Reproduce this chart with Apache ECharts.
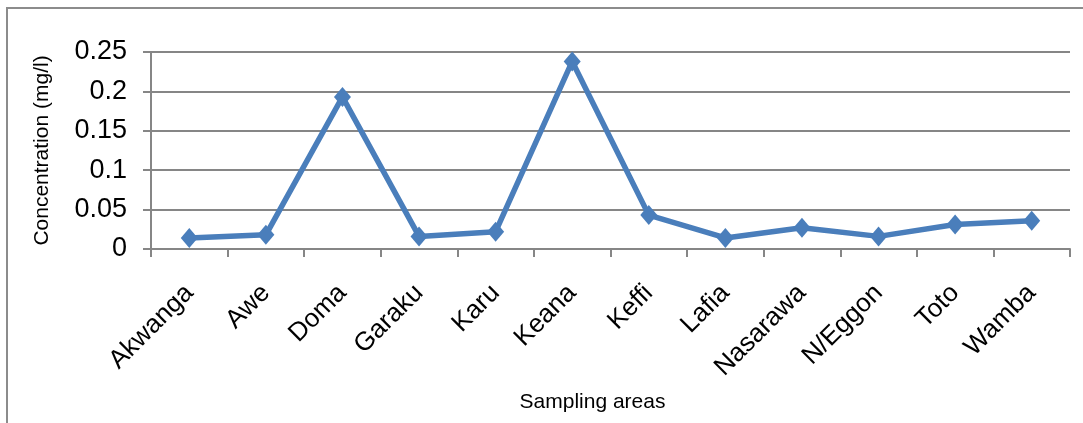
<!DOCTYPE html>
<html>
<head>
<meta charset="utf-8">
<script src="https://cdn.jsdelivr.net/npm/echarts@6/dist/echarts.min.js"></script>
<style>
html,body{margin:0;padding:0;background:#fff;}
#c{width:1083px;height:423px;}
</style>
</head>
<body>
<div id="c"></div>
<script>
const categories = ["Akwanga","Awe","Doma","Garaku","Karu","Keana","Keffi","Lafia","Nasarawa","N/Eggon","Toto","Wamba"];
const concentration = [0.014,0.018,0.193,0.016,0.022,0.238,0.043,0.014,0.027,0.016,0.031,0.036];
const yAxisTitle = "Concentration (mg/l)";
const xAxisTitle = "Sampling areas";

const chart = echarts.init(document.getElementById('c'), null, {renderer:'canvas'});
const font = "'Liberation Sans', Arial, sans-serif";
chart.setOption({
  animation:false,
  backgroundColor:'#fff',
  graphic:[{type:'rect',shape:{x:7,y:8,width:1200,height:600},style:{fill:'none',stroke:'#8c8c8c',lineWidth:2},silent:true,z:-1}],
  grid:{left:151,right:13,top:52,bottom:174,containLabel:false},
  xAxis:{
    type:'category',data:categories,boundaryGap:true,
    name:xAxisTitle,nameLocation:'middle',nameGap:143,
    nameTextStyle:{fontFamily:font,fontSize:21,color:'#000',verticalAlign:'top',padding:[0,36,0,0]},
    axisLine:{lineStyle:{color:'#868686',width:2}},
    axisTick:{show:true,length:8,lineStyle:{color:'#868686',width:2},alignWithLabel:false},
    axisLabel:{rotate:45,interval:0,fontFamily:font,fontSize:26,color:'#000',margin:40},
    splitLine:{show:false}
  },
  yAxis:{
    type:'value',min:0,max:0.25,interval:0.05,
    name:yAxisTitle,nameLocation:'middle',nameGap:98,
    nameTextStyle:{fontFamily:font,fontSize:21,color:'#000'},
    axisLine:{show:true,lineStyle:{color:'#868686',width:2}},
    axisTick:{show:true,length:8,lineStyle:{color:'#868686',width:2}},
    axisLabel:{fontFamily:font,fontSize:27,color:'#000',margin:24},
    splitLine:{show:true,lineStyle:{color:'#868686',width:2}}
  },
  series:[{
    type:'line',data:concentration,
    symbol:'diamond',symbolSize:[17,20],
    lineStyle:{color:'#4a7ebb',width:5.5},
    itemStyle:{color:'#4a7ebb'}
  }]
});
</script>
</body>
</html>
